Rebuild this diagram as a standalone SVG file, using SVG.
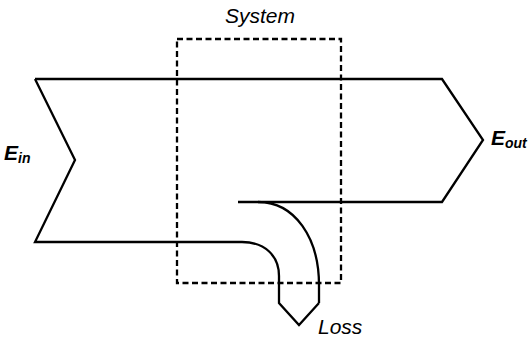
<svg xmlns="http://www.w3.org/2000/svg" width="528" height="340" viewBox="0 0 528 340">
<style>
.ln{fill:none;stroke:#000;stroke-width:2.3;stroke-linejoin:miter}
.sys{fill:none;stroke:#000;stroke-width:2.3;stroke-dasharray:6 3.5}
.t{font-family:"Liberation Sans",Arial,sans-serif;font-style:italic;font-size:21px;fill:#000}
.b{font-weight:bold}
.sub{font-size:14px}
</style>
<rect width="528" height="340" fill="#fff"/>
<g id="system">
<rect class="sys" x="177" y="39" width="164" height="244"/>
<text class="t" x="260" y="23" text-anchor="middle">System</text>
</g>
<g id="connectors">
<path class="ln" d="M35 79 L442 79 L483 140 L442 202 L238 202"/>
<path class="ln" d="M258 202 C295 202 319 238 319 285 L319 303"/>
<path class="ln" d="M35 79 L75 160 L35 242 L242 242 C265 242 279 256 279 276 L279 303 L299 325 L319 303"/>
</g>
<g id="ein">
<text class="t b" x="4" y="160">E<tspan class="sub" dy="3">in</tspan></text>
</g>
<g id="eout">
<text class="t b" x="491" y="145">E<tspan class="sub" dy="3">out</tspan></text>
</g>
<g id="loss">
<text class="t" x="318" y="334">Loss</text>
</g>
</svg>
